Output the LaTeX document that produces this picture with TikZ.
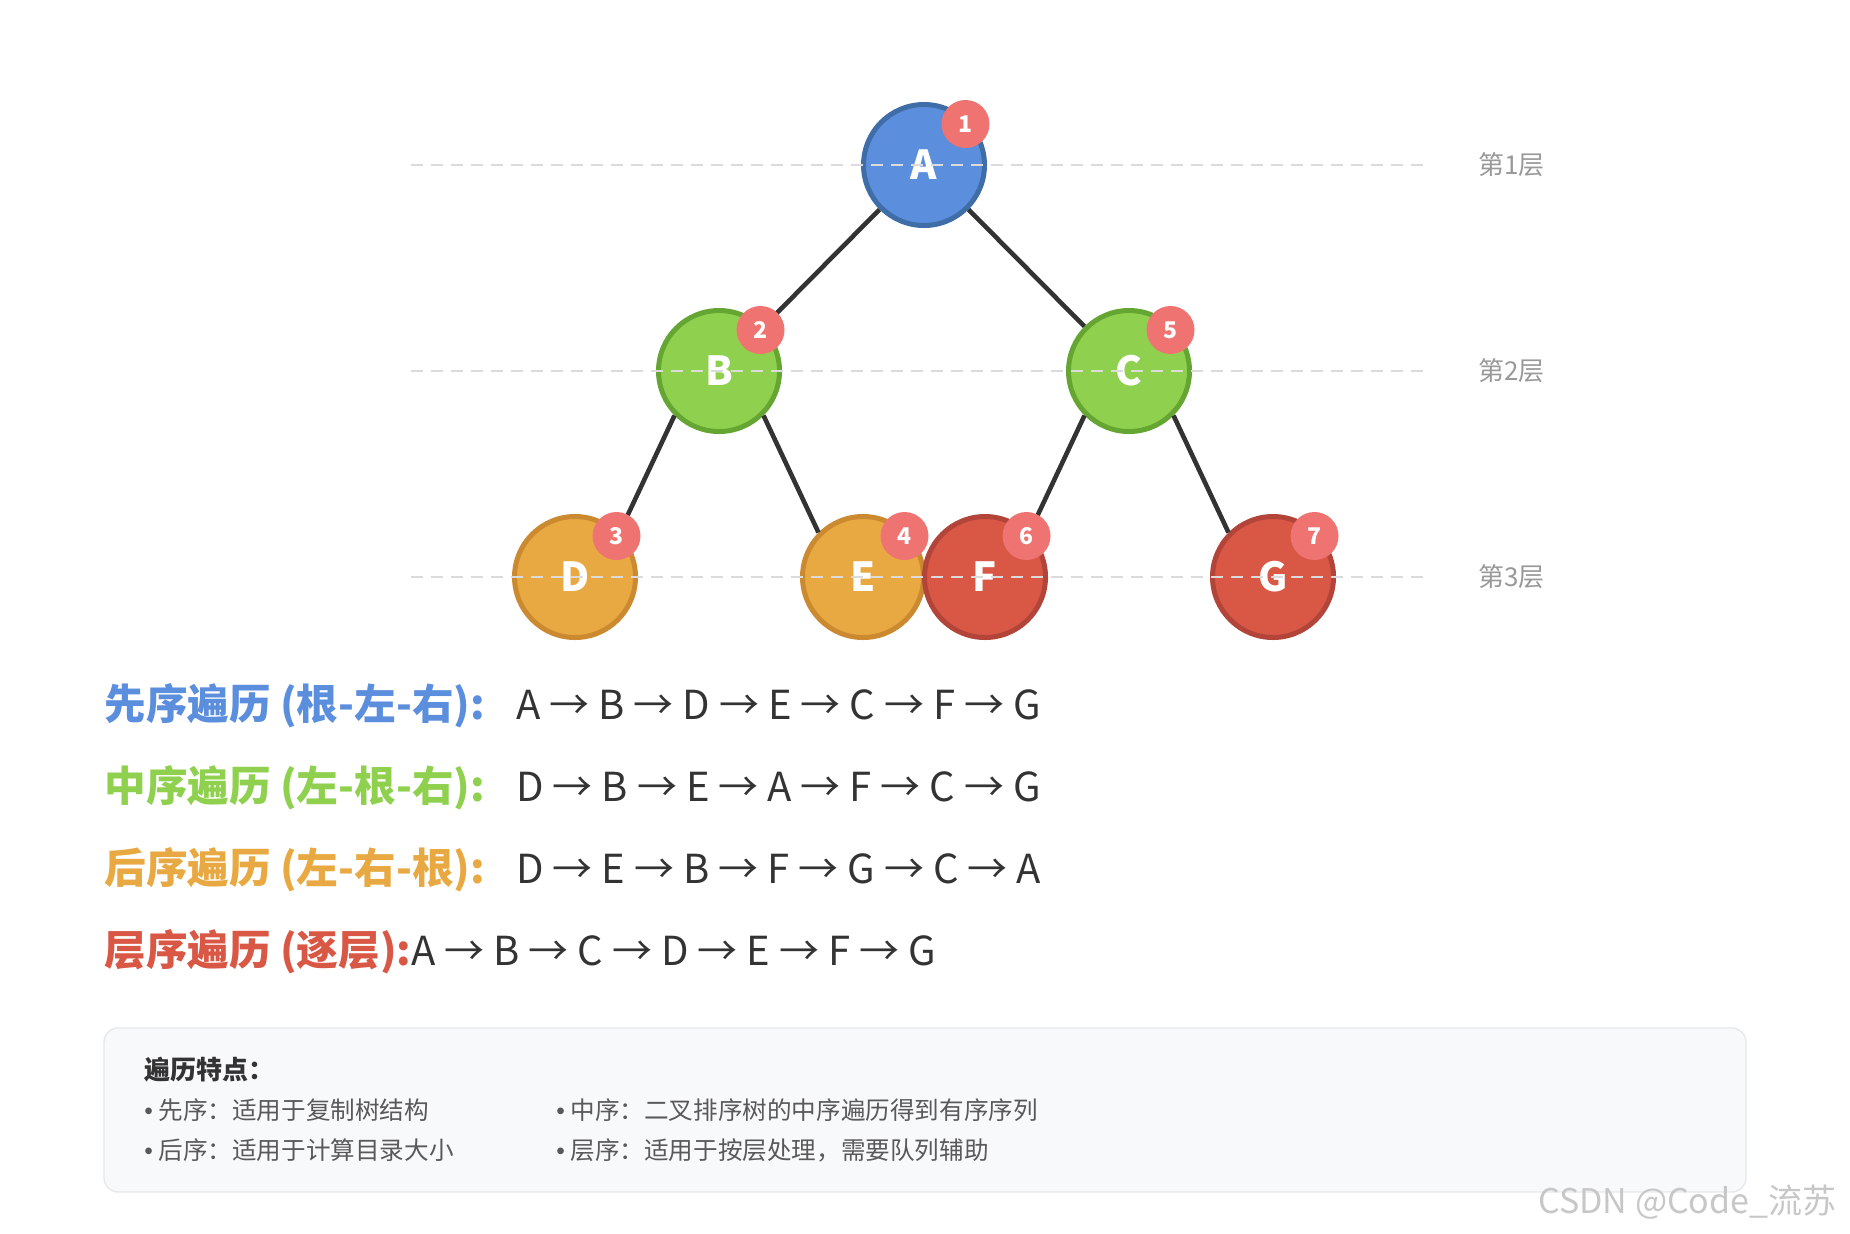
\documentclass[tikz,border=0pt]{standalone}
\usepackage{fontspec}
\setmainfont{Noto Sans CJK SC}
\newfontfamily\dotfont{Liberation Sans}
\usetikzlibrary{positioning,calc}
\definecolor{BlueFill}{HTML}{5B8EDC}
\definecolor{BlueLine}{HTML}{3F6DA8}
\definecolor{GreenFill}{HTML}{8FD14F}
\definecolor{GreenLine}{HTML}{65A532}
\definecolor{OrangeFill}{HTML}{E8A943}
\definecolor{OrangeLine}{HTML}{CC8A30}
\definecolor{RedFill}{HTML}{D95745}
\definecolor{RedLine}{HTML}{B3443A}
\definecolor{BadgeRed}{HTML}{EF7370}
\definecolor{EdgeGray}{HTML}{333333}
\definecolor{TextDark}{HTML}{333333}
\definecolor{TextGray}{HTML}{595959}
\definecolor{LevelGray}{HTML}{999999}
\definecolor{PanelBg}{HTML}{F8F9FB}
\definecolor{PanelLine}{HTML}{E6E8EB}
\newcommand{\dotitem}{{\dotfont •} }

\begin{document}
\begin{tikzpicture}[x=0.5pt,y=-0.5pt,
  tnode/.style={circle,draw,line width=2.5pt,minimum size=60.5pt,inner sep=0pt,text=white,font=\fontsize{20}{24}\selectfont\bfseries},
  badge/.style={circle,fill=BadgeRed,minimum size=24pt,inner sep=0pt,text=white,font=\fontsize{11.5}{13}\selectfont\bfseries},
  edge/.style={line width=2.3pt,draw=EdgeGray},
  level/.style={draw=black!14,line width=1pt,dash pattern=on 6pt off 4pt},
  lvltext/.style={anchor=west,text=LevelGray,font=\fontsize{13}{15}\selectfont},
  lbl/.style={anchor=base west,inner sep=0pt,font=\fontsize{20.8}{25}\selectfont\bfseries},
  seq/.style={anchor=base west,inner sep=0pt,text=TextDark,font=\fontsize{20}{24}\selectfont},
  note/.style={anchor=base west,inner sep=0pt,text=TextGray,font=\fontsize{12.3}{15}\selectfont}]
\useasboundingbox (0,0) rectangle (1850,1233);
% tree
\node[tnode,fill=BlueFill,draw=BlueLine] (A) at (924,165) {A};
\node[tnode,fill=GreenFill,draw=GreenLine] (B) at (719,371) {B};
\node[tnode,fill=GreenFill,draw=GreenLine] (C) at (1129,371) {C};
\node[tnode,fill=OrangeFill,draw=OrangeLine] (D) at (575,577) {D};
\node[tnode,fill=OrangeFill,draw=OrangeLine] (E) at (863,577) {E};
\node[tnode,fill=RedFill,draw=RedLine] (F) at (985,577) {F};
\node[tnode,fill=RedFill,draw=RedLine] (G) at (1273,577) {G};
\draw[edge] (A.south west)--(B.north east);
\draw[edge] (A.south east)--(C.north west);
\draw[edge] (B.south west)--(D.north east);
\draw[edge] (B.south east)--(E.north west);
\draw[edge] (C.south west)--(F.north east);
\draw[edge] (C.south east)--(G.north west);
\node[badge] (nA) at ($(A)+(41.5,-41)$) {1};
\node[badge] (nB) at ($(B)+(41.5,-41)$) {2};
\node[badge] (nC) at ($(C)+(41.5,-41)$) {5};
\node[badge] (nD) at ($(D)+(41.5,-41)$) {3};
\node[badge] (nE) at ($(E)+(41.5,-41)$) {4};
\node[badge] (nF) at ($(F)+(41.5,-41)$) {6};
\node[badge] (nG) at ($(G)+(41.5,-41)$) {7};
% levels
\coordinate (l1a) at (411,165); \coordinate (l1b) at (1428,165);
\coordinate (l2a) at (411,371); \coordinate (l2b) at (1428,371);
\coordinate (l3a) at (411,577); \coordinate (l3b) at (1428,577);
\draw[level] (l1a)--(l1b);
\draw[level] (l2a)--(l2b);
\draw[level] (l3a)--(l3b);
\node[lvltext] (lv1) at (1471,165) {第1层};
\node[lvltext] (lv2) at (1471,371) {第2层};
\node[lvltext] (lv3) at (1471,577) {第3层};
% traversals
\node[lbl,text=BlueFill] (pre) at (104,719) {先序遍历 (根-左-右):};
\node[seq] (preseq) at (516,719) {A → B → D → E → C → F → G};
\node[lbl,text=GreenFill] (in) at (104,801) {中序遍历 (左-根-右):};
\node[seq] (inseq) at (516,801) {D → B → E → A → F → C → G};
\node[lbl,text=OrangeFill] (post) at (104,883) {后序遍历 (左-右-根):};
\node[seq] (postseq) at (516,883) {D → E → B → F → G → C → A};
\node[lbl,text=RedFill] (lvl) at (104,965) {层序遍历 (逐层):};
\node[seq] (lvlseq) at (411,965) {A → B → C → D → E → F → G};
% notes
\node[draw=PanelLine,fill=PanelBg,line width=0.7pt,rounded corners=7pt,minimum width=821pt,minimum height=82pt] (panel) at (925,1110) {};
\node[anchor=base west,inner sep=0pt,text=TextDark,font=\fontsize{13}{15}\selectfont\bfseries] (ptitle) at (144,1079) {遍历特点：};
\node[note] (n1) at (144,1119) {\dotitem 先序：适用于复制树结构};
\node[note] (n2) at (556,1119) {\dotitem 中序：二叉排序树的中序遍历得到有序序列};
\node[note] (n3) at (144,1159) {\dotitem 后序：适用于计算目录大小};
\node[note] (n4) at (556,1159) {\dotitem 层序：适用于按层处理，需要队列辅助};
\node[anchor=base west,inner sep=0pt,text=black!22,font=\fontsize{17}{20}\selectfont] (mark) at (1538,1213) {CSDN @Code\_流苏};
\end{tikzpicture}
\end{document}
